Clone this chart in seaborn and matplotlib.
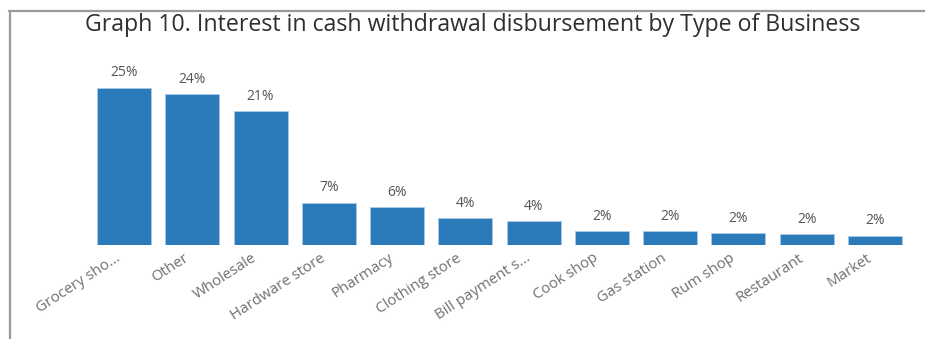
import matplotlib
matplotlib.use("Agg")
import matplotlib.pyplot as plt
from matplotlib.lines import Line2D
from matplotlib.transforms import ScaledTranslation
import seaborn as sns
import pandas as pd

# Share of respondents interested in cash withdrawal disbursement, by business type (%)
business_types = [
    "Grocery sho...", "Other", "Wholesale", "Hardware store", "Pharmacy",
    "Clothing store", "Bill payment s...", "Cook shop", "Gas station",
    "Rum shop", "Restaurant", "Market",
]
interest_pct = [25.0, 24.0, 21.3, 6.7, 6.0, 4.3, 3.8, 2.2, 2.2, 1.9, 1.7, 1.5]

df = pd.DataFrame({"business": business_types, "pct": interest_pct})

sns.set_theme(style="white")
plt.rcParams["font.family"] = ["Open Sans", "DejaVu Sans"]

fig = plt.figure(figsize=(9.25, 3.39), dpi=100)
ax = fig.add_axes([0.0972, 0.277, 0.8856, 0.519])

sns.barplot(data=df, x="business", y="pct", color="#2b7bba", width=0.79,
            saturation=1, ax=ax, edgecolor="#a9cbe8", linewidth=0.6)

for i, v in enumerate(interest_pct):
    ax.text(i, v + 1.2, f"{v:.0f}%", ha="center", va="bottom",
            fontsize=10, color="#555555")

ax.set_xlim(-0.5, len(business_types) - 0.5)
ax.set_ylim(0, 28)
ax.set_xlabel("")
ax.set_ylabel("")
ax.set_yticks([])
ax.set_xticks(range(len(business_types)))
ax.set_xticklabels(business_types, rotation=33, ha="right",
                   rotation_mode="anchor", fontsize=10.8, color="#707070")
ax.tick_params(axis="x", length=0, pad=4)
shift = ScaledTranslation(-9 / 100, 0, fig.dpi_scale_trans)
for lbl in ax.get_xticklabels():
    lbl.set_transform(lbl.get_transform() + shift)
for s in ax.spines.values():
    s.set_visible(False)

fig.text(0.511, 0.926, "Graph 10. Interest in cash withdrawal disbursement by Type of Business",
         ha="center", va="center", fontsize=16.7, color="#2f2f2f")

# Panel frame on the top and left edges
fig.add_artist(Line2D([9 / 925, 1.0], [1 - 11 / 339, 1 - 11 / 339],
                      transform=fig.transFigure, color="#9a9a9a", linewidth=1.6))
fig.add_artist(Line2D([10 / 925, 10 / 925], [0.0, 1 - 11 / 339],
                      transform=fig.transFigure, color="#9a9a9a", linewidth=1.6))

fig.savefig("out.png", dpi=100)
